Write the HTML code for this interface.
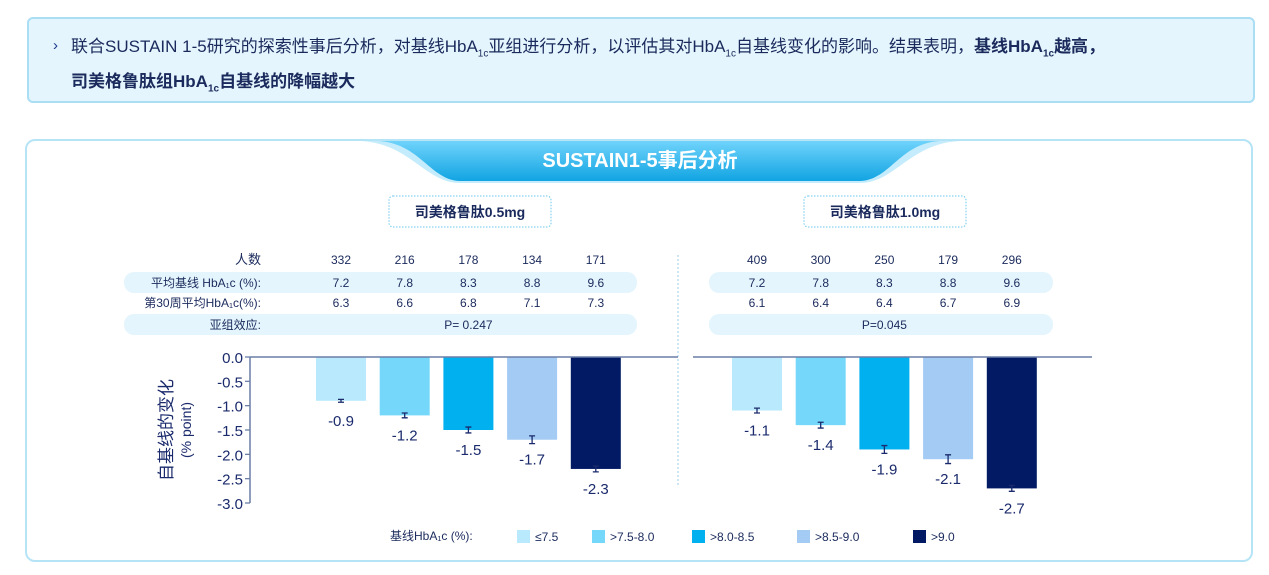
<!DOCTYPE html>
<html><head><meta charset="utf-8">
<style>
body{margin:0;width:1269px;height:575px;background:#fff;font-family:"Liberation Sans","Noto Sans CJK SC",sans-serif;position:relative;overflow:hidden;color:#1a2a6c}
.top{position:absolute;left:27px;top:17px;width:1228px;height:86px;border:2px solid #a9def5;border-radius:6px;background:#e4f5fd;box-sizing:border-box}
.top p{margin:0;position:absolute;left:42px;top:14px;width:1180px;font-size:17px;line-height:28px;color:#1a2a5c;white-space:nowrap}
.top .arrow{position:absolute;left:24px;top:18px;color:#1a3a8c;font-size:15px}
.card{position:absolute;left:25px;top:139px;width:1228px;height:423px;border:2px solid #b6e4f7;border-radius:10px;background:#fff;box-sizing:border-box}
sub{font-size:10px}
</style></head><body>
<div class="top">
<span class="arrow">›</span>
<p>联合SUSTAIN 1-5研究的探索性事后分析，对基线HbA<sub>1c</sub>亚组进行分析，以评估其对HbA<sub>1c</sub>自基线变化的影响。结果表明，<b>基线HbA<sub>1c</sub>越高，</b><br><b>司美格鲁肽组HbA<sub>1c</sub>自基线的降幅越大</b></p>
</div>
<div class="card"></div>
<svg id="chart" width="1269" height="575" style="position:absolute;left:0;top:0">
<defs>
<linearGradient id="bg" x1="0" y1="0" x2="0" y2="1"><stop offset="0" stop-color="#6fd3fb"/><stop offset="1" stop-color="#11a4e2"/></linearGradient>
</defs>
<path d="M360,141 L960,141 C910,143 895,183 860,183 L460,183 C425,183 410,143 360,141Z" fill="#c4ecfc"/>
<path d="M378,141 L940,141 C900,143 890,180 860,181 L460,181 C430,180 420,143 378,141Z" fill="url(#bg)"/>
<text x="640" y="167" text-anchor="middle" fill="#fff" font-size="20" font-weight="bold">SUSTAIN1-5事后分析</text>
<rect x="389" y="196" width="162" height="31" rx="4" fill="#fff" stroke="#6cc8ee" stroke-dasharray="1.5 1.5"/>
<text x="470" y="217" text-anchor="middle" font-size="14" font-weight="bold" fill="#1a2a5c">司美格鲁肽0.5mg</text>
<rect x="804" y="196" width="162" height="31" rx="4" fill="#fff" stroke="#6cc8ee" stroke-dasharray="1.5 1.5"/>
<text x="885" y="217" text-anchor="middle" font-size="14" font-weight="bold" fill="#1a2a5c">司美格鲁肽1.0mg</text>
<line x1="678" y1="255" x2="678" y2="485" stroke="#9ccde6" stroke-dasharray="2 2"/>
<g id="g"></g>
</svg>
<script>
const groups=["≤7.5",">7.5-8.0",">8.0-8.5",">8.5-9.0",">9.0"];
const colors=["#b9e9fc","#75d8fb","#00b0ef","#a3cbf4","#011a63"];
const ticks=[0,-0.5,-1,-1.5,-2,-2.5,-3];
const nLow=[332,216,178,134,171];
const baseLow=[7.2,7.8,8.3,8.8,9.6];
const wk30Low=[6.3,6.6,6.8,7.1,7.3];
const valLow=[-0.9,-1.2,-1.5,-1.7,-2.3];
const errLow=[0.03,0.05,0.06,0.08,0.06];
const pLow="P= 0.247";
const nHigh=[409,300,250,179,296];
const baseHigh=[7.2,7.8,8.3,8.8,9.6];
const wk30High=[6.1,6.4,6.4,6.7,6.9];
const valHigh=[-1.1,-1.4,-1.9,-2.1,-2.7];
const errHigh=[0.05,0.06,0.08,0.09,0.06];
const pHigh="P=0.045";

const NS="http://www.w3.org/2000/svg",g=document.getElementById('g');
function mk(t,a,txt){const e=document.createElementNS(NS,t);for(const k in a)e.setAttribute(k,a[k]);if(txt!=null)e.textContent=txt;g.appendChild(e);return e;}
const y=v=>357+(v/-3)*146;
function panel(x0,n,base,wk,val,err,p,tag){
  const cx=i=>x0+i*63.7;
  for(let i=0;i<5;i++){
    let t=mk('text',{x:cx(i),y:264,'text-anchor':'middle','font-size':12,fill:'#1a2a5c'},n[i]);
    
    t=mk('text',{x:cx(i),y:287,'text-anchor':'middle','font-size':12,fill:'#1a2a5c'},base[i]);
    
    t=mk('text',{x:cx(i),y:307,'text-anchor':'middle','font-size':12,fill:'#1a2a5c'},wk[i]);
    
    const b=mk('rect',{x:cx(i)-25,y:357,width:50,height:y(val[i])-357,fill:colors[i]});
    
    
    const e1=y(val[i]-err[i]),e0=y(val[i]+err[i]);
    const eb=mk('path',{d:`M${cx(i)},${e0}V${e1}M${cx(i)-3},${e0}h6M${cx(i)-3},${e1}h6`,stroke:'#1a2a6c','stroke-width':1.3,fill:'none'});
    
    const l=mk('text',{x:cx(i),y:y(val[i])+25,'text-anchor':'middle','font-size':15,fill:'#1a2a6c'},val[i].toFixed(1));
    
  }
  const pt=mk('text',{x:cx(2),y:329,'text-anchor':'middle','font-size':12,fill:'#1a2a5c'},p);
  
}
[[124,637],[709,1053]].forEach((r,k)=>{[272,314].forEach(yy=>{const b=mk('rect',{x:r[0],y:yy,width:r[1]-r[0],height:21,rx:10,fill:'#e4f5fd'});
});});
const labs=[["人数",264],["平均基线 HbA₁c (%):",287],["第30周平均HbA₁c(%):",307],["亚组效应:",329]];
labs.forEach((l,i)=>{const t=mk('text',{x:261,y:l[1],'text-anchor':'end','font-size':i==0?13:12,fill:'#1a2a5c'},l[0]);
});
panel(341,nLow,baseLow,wk30Low,valLow,errLow,pLow,'low');
panel(757,nHigh,baseHigh,wk30High,valHigh,errHigh,pHigh,'high');
let a=mk('path',{d:'M250,357H678M250,357V503',stroke:'#6b7fa8','stroke-width':1.5,fill:'none'});

a=mk('line',{x1:693,y1:357,x2:1092,y2:357,stroke:'#6b7fa8','stroke-width':1.5});

ticks.forEach(v=>{const t=mk('line',{x1:245,x2:250,y1:y(v),y2:y(v),stroke:'#6b7fa8','stroke-width':1.3});

const l=mk('text',{x:243,y:y(v)+6,'text-anchor':'end','font-size':15,fill:'#1a2a6c'},v.toFixed(1));
});
let yt=mk('text',{transform:'translate(172,430) rotate(-90)','text-anchor':'middle','font-size':17,fill:'#1a2a6c'},'自基线的变化');

yt=mk('text',{transform:'translate(191,430) rotate(-90)','text-anchor':'middle','font-size':14,fill:'#1a2a6c'},'(% point)');

const lt=mk('text',{x:390,y:540,'font-size':12,fill:'#1a2a5c'},'基线HbA₁c (%):');

const lx=[517,592,692,797,913];
groups.forEach((gname,i)=>{const r=mk('rect',{x:lx[i],y:530,width:13,height:13,fill:colors[i]});

const t=mk('text',{x:lx[i]+18,y:541,'font-size':12,fill:'#1a2a5c'},gname);
});
</script>
</body></html>
